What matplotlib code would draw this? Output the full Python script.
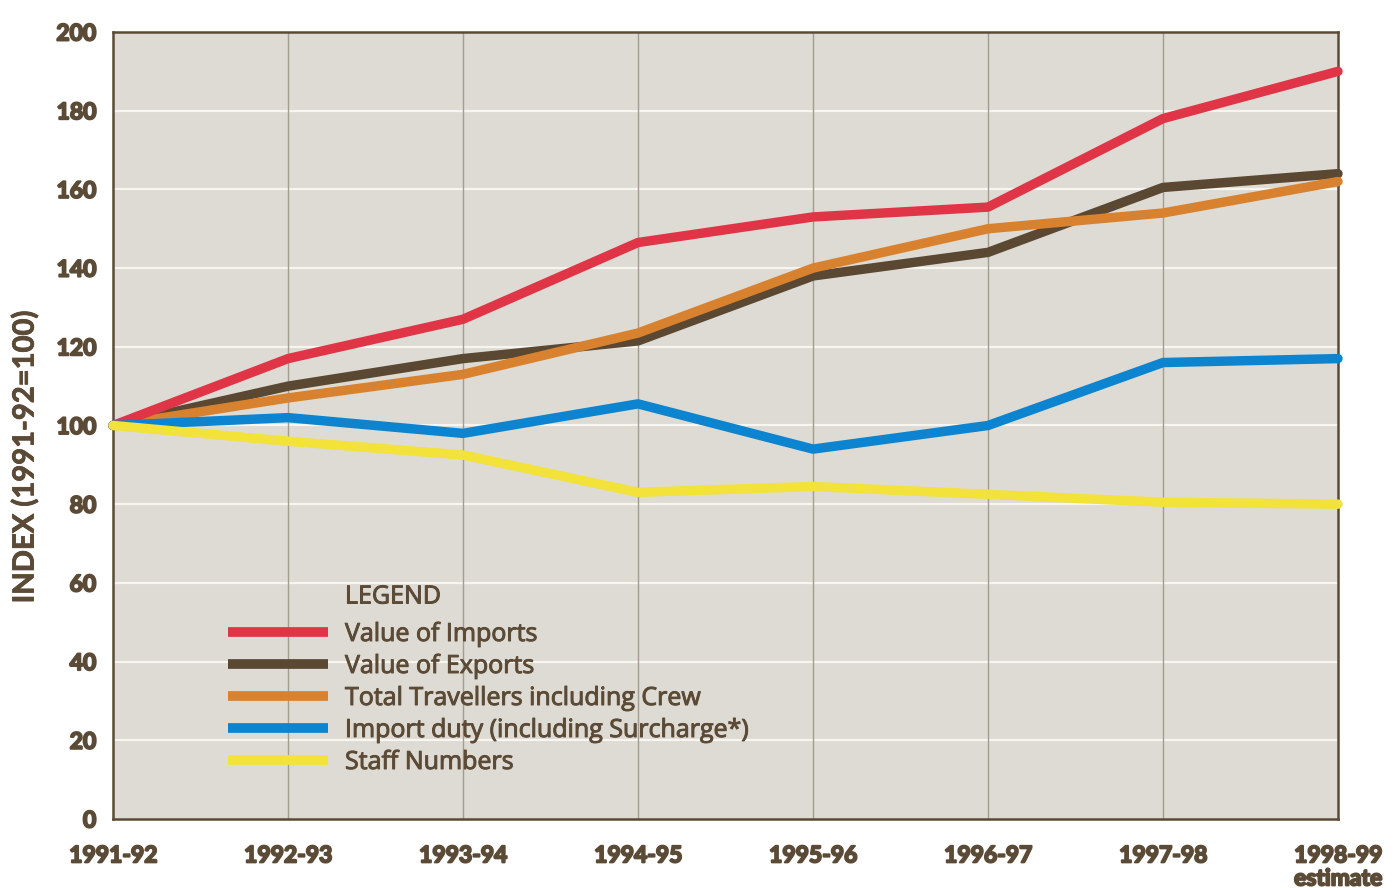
import matplotlib
matplotlib.use("Agg")
import matplotlib.pyplot as plt
import matplotlib.patheffects as pe

years = ["1991-92", "1992-93", "1993-94", "1994-95", "1995-96", "1996-97", "1997-98", "1998-99\nestimate"]
imports = [100, 117, 127, 146.5, 153, 155.5, 178, 190]
exports = [100, 110, 117, 121.5, 138, 144, 160.5, 164]
travellers = [100, 107, 113, 123.5, 140, 150, 154, 162]
import_duty = [100, 102, 98, 105.5, 94, 100, 116, 117]
staff = [100, 96, 92.5, 83, 84.5, 82.5, 80.5, 80]
yticks = [0, 20, 40, 60, 80, 100, 120, 140, 160, 180, 200]

TXT = "#5b4a36"
plt.rcParams['font.family'] = ['Lato', 'DejaVu Sans']

fig = plt.figure(figsize=(13.94, 8.88), dpi=100)
ax = fig.add_axes([113/1394, (888-819)/888, (1338-113)/1394, (819-32)/888])
ax.set_facecolor("#dedbd4")

x = list(range(len(years)))
series = [
    (exports, "#5a4833", "Value of Exports", 2),
    (travellers, "#d8822f", "Total Travellers including Crew", 3),
    (imports, "#e03546", "Value of Imports", 4),
    (import_duty, "#0c84d0", "Import duty (including Surcharge*)", 5),
    (staff, "#f2e23a", "Staff Numbers", 6),
]
handles = {}
for vals, col, lab, z in series:
    ln, = ax.plot(x, vals, color=col, lw=6.8, solid_capstyle='round',
                  solid_joinstyle='round', zorder=z, clip_on=False, label=lab)
    handles[lab] = ln

ax.set_xlim(0, 7)
ax.set_ylim(0, 200)
ax.set_yticks(yticks)
ax.set_yticklabels([str(v) for v in yticks])
ax.set_xticks(x)
ax.set_xticklabels(years, linespacing=1.12)
for lbl in ax.get_xticklabels():
    lbl.set_verticalalignment('top')

ax.tick_params(axis='both', length=0, labelsize=16.5, labelcolor=TXT)
ax.tick_params(axis='x', pad=19)
ax.tick_params(axis='y', pad=12)
heavy = [pe.withStroke(linewidth=1.4, foreground=TXT)]
for lbl in ax.get_xticklabels() + ax.get_yticklabels():
    lbl.set_fontweight('bold')
    lbl.set_path_effects(heavy)

for v in yticks[1:-1]:
    ax.axhline(v, color="#f7f5f0", lw=1.6, zorder=1)
for xi in x[1:-1]:
    ax.axvline(xi, color="#a39c8f", lw=1.0, zorder=1)

for s in ax.spines.values():
    s.set_color("#5b4a36")
    s.set_linewidth(1.8)

fig.text(25/1394, 1 - 457/888, "INDEX (1991-92=100)", rotation=90, fontsize=21,
         color=TXT, fontweight='bold', ha='center', va='center',
         path_effects=[pe.withStroke(linewidth=0.6, foreground=TXT)])

order = ["Value of Imports", "Value of Exports", "Total Travellers including Crew",
         "Import duty (including Surcharge*)", "Staff Numbers"]
leg = ax.legend([handles[o] for o in order], order, loc='upper left',
                bbox_to_anchor=((228-113)/1225, (819-622)/787), frameon=False,
                prop={'family': ['Open Sans', 'DejaVu Sans'], 'size': 18},
                handlelength=4.0, handletextpad=0.68,
                labelspacing=0.28, borderpad=0, borderaxespad=0)
med = [pe.withStroke(linewidth=0.7, foreground=TXT)]
for t in leg.get_texts():
    t.set_color(TXT)
    t.set_path_effects(med)
for h in leg.legend_handles:
    h.set_linewidth(7)
    h.set_solid_capstyle('butt')
ax.text((345-113)/1225, (819-597)/787, "LEGEND", transform=ax.transAxes,
        fontsize=18, color=TXT, family=['Open Sans', 'DejaVu Sans'],
        ha='left', va='center', path_effects=med)

fig.savefig("out.png", dpi=100, facecolor="white")
